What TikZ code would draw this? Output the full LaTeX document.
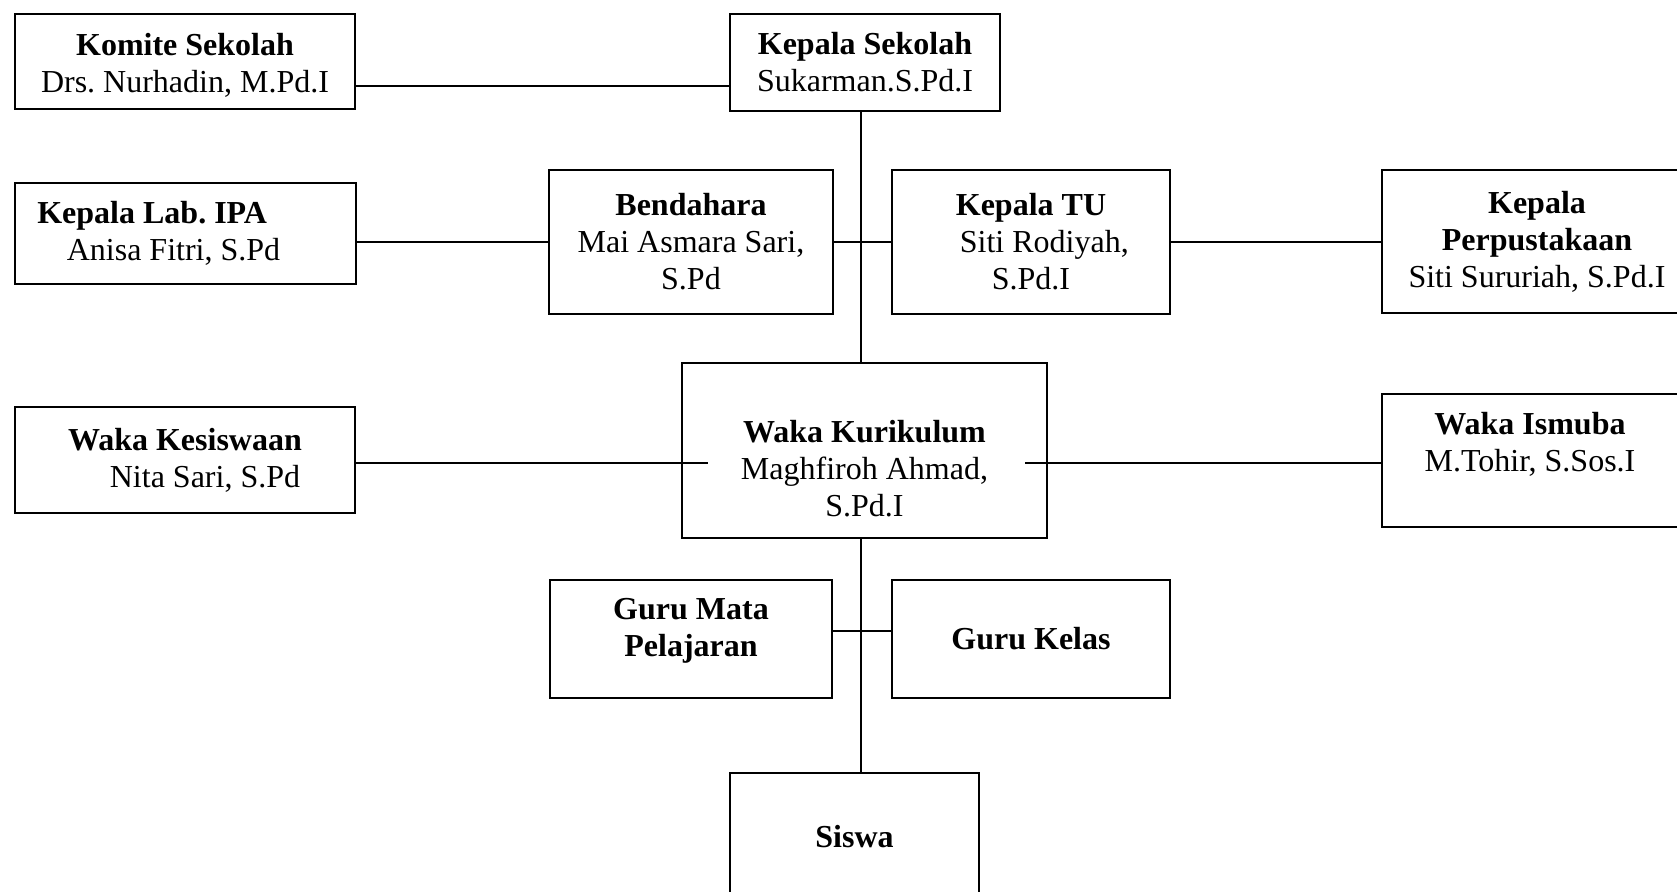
\documentclass[tikz,border=0pt]{standalone}
\usepackage{fontspec}
\setmainfont{Liberation Serif}
\usetikzlibrary{calc}
\frenchspacing

\begin{document}
\begin{tikzpicture}[
  x=0.375pt, y=-0.375pt,
  font=\fontsize{12}{13.9}\selectfont,
  unitbox/.style 2 args={draw, line width=0.8pt, inner sep=0pt, outer sep=0pt,
                         align=center, minimum width=#1, minimum height=#2},
  link/.style={line width=0.75pt},
]
\useasboundingbox (0,0) rectangle (1677,892);
\clip (0,0) rectangle (1677,892);

% Top row
\node[unitbox={127.5pt}{35.6pt}] (komite) at (185,61.5)
  {\mbox{}\\[-2.4pt]\textbf{Komite Sekolah}\\Drs. Nurhadin, M.Pd.I};
\node[unitbox={101.25pt}{36.4pt}] (kepsek) at (865,62.5)
  {\textbf{Kepala Sekolah}\\Sukarman.S.Pd.I};

% Second row
\node[unitbox={127.9pt}{37.9pt}] (labipa) at (185.5,233.5)
  {\textbf{Kepala Lab. IPA}\hspace*{25pt}\\Anisa Fitri, S.Pd\hspace*{9pt}};
\node[unitbox={106.5pt}{54pt}] (bendahara) at (691,242)
  {\textbf{Bendahara}\\Mai Asmara Sari,\\S.Pd};
\node[unitbox={104.25pt}{54pt}] (kepTU) at (1031,242)
  {\textbf{Kepala TU}\\\hspace*{10pt}Siti Rodiyah,\\S.Pd.I};
\node[unitbox={116.25pt}{53.6pt}] (perpus) at (1537,241.5)
  {\textbf{Kepala}\\\textbf{Perpustakaan}\\Siti Sururiah, S.Pd.I};

% Third row
\node[unitbox={127.5pt}{39.75pt}] (kesiswaan) at (185,460)
  {\textbf{Waka Kesiswaan}\\\hspace*{15pt}Nita Sari, S.Pd};
\node[unitbox={136.9pt}{65.6pt}] (kurikulum) at (864.5,450.5)
  {\mbox{}\\[8pt]\textbf{Waka Kurikulum}\\Maghfiroh Ahmad,\\S.Pd.I};
\node[unitbox={111pt}{49.9pt}] (ismuba) at (1530,460.5)
  {\textbf{Waka Ismuba}\\M.Tohir, S.Sos.I\\\mbox{}};

% Teachers and students
\node[unitbox={105.75pt}{44.25pt}] (gurumapel) at (691,639)
  {\textbf{Guru Mata}\\\textbf{Pelajaran}\\[-5pt]\mbox{}};
\node[unitbox={104.25pt}{44.25pt}] (gurukelas) at (1031,639)
  {\textbf{Guru Kelas}};
\node[unitbox={93.4pt}{47.6pt}] (siswa) at (854.5,836.5)
  {\textbf{Siswa}};

% Connectors
\coordinate (spine) at (861,0);
\coordinate (komL) at ($(komite.east)+(0,24.5)$);
\coordinate (kurL) at ($(kurikulum.west)+(26,12.5)$);
\coordinate (kurR) at ($(kurikulum.east)+(-22,12.5)$);
\coordinate (guruL) at ($(gurumapel.east)+(0,-8)$);

\draw[link] (komL) -- (komL -| kepsek.west);
\draw[link] (spine |- kepsek.south) -- (spine |- kurikulum.north);
\draw[link] (spine |- kurikulum.south) -- (spine |- siswa.north);
\draw[link] (bendahara.west -| labipa.east) -- (bendahara.west);
\draw[link] (bendahara.east) -- (kepTU.west);
\draw[link] (kepTU.east) -- (kepTU.east -| perpus.west);
\draw[link] (kesiswaan.east |- kurL) -- (kurL);
\draw[link] (kurR) -- (kurR -| ismuba.west);
\draw[link] (guruL) -- (guruL -| gurukelas.west);

\end{tikzpicture}
\end{document}
